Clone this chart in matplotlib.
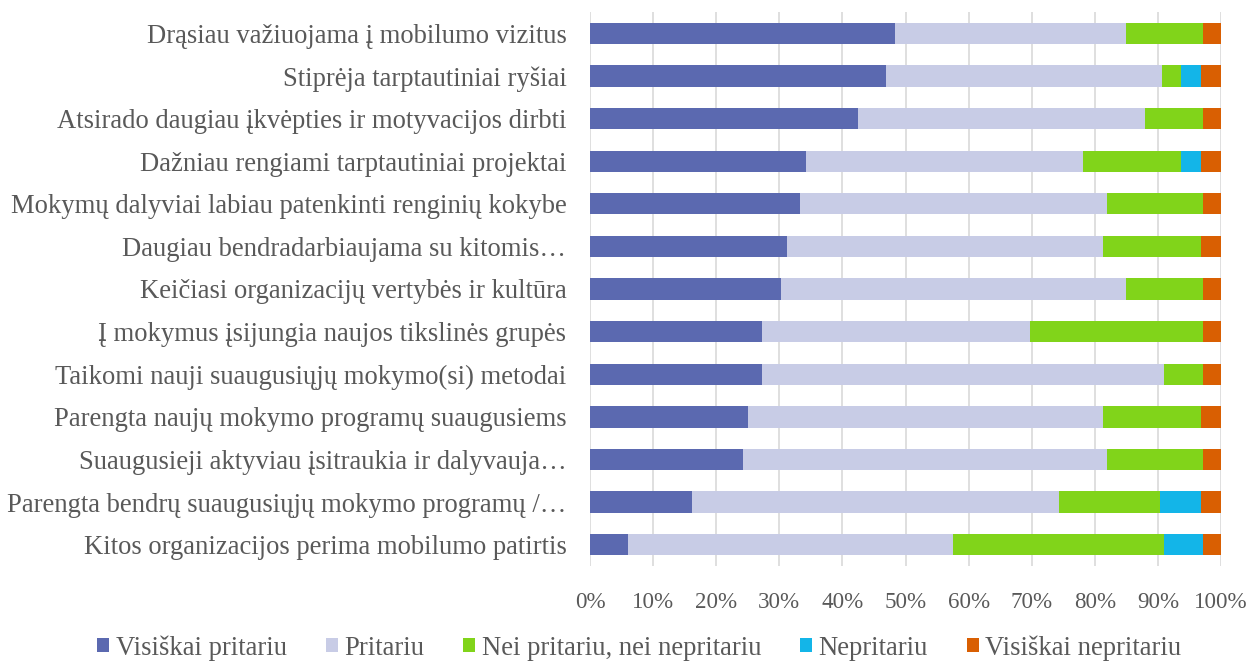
import matplotlib
matplotlib.use("Agg")
import matplotlib.pyplot as plt
import numpy as np

categories = [
    "Drąsiau važiuojama į mobilumo vizitus",
    "Stiprėja tarptautiniai ryšiai",
    "Atsirado daugiau įkvėpties ir motyvacijos dirbti",
    "Dažniau rengiami tarptautiniai projektai",
    "Mokymų dalyviai labiau patenkinti renginių kokybe",
    "Daugiau bendradarbiaujama su kitomis…",
    "Keičiasi organizacijų vertybės ir kultūra",
    "Į mokymus įsijungia naujos tikslinės grupės",
    "Taikomi nauji suaugusiųjų mokymo(si) metodai",
    "Parengta naujų mokymo programų suaugusiems",
    "Suaugusieji aktyviau įsitraukia ir dalyvauja…",
    "Parengta bendrų suaugusiųjų mokymo programų /…",
    "Kitos organizacijos perima mobilumo patirtis",
]
series_names = ["Visiškai pritariu", "Pritariu", "Nei pritariu, nei nepritariu",
                "Nepritariu", "Visiškai nepritariu"]
visiskai_pritariu = [48.4, 46.9, 42.4, 34.3, 33.3, 31.2, 30.3, 27.2, 27.2, 25.0, 24.2, 16.1, 6.0]
pritariu = [36.5, 43.8, 45.5, 43.9, 48.6, 50.1, 54.6, 42.5, 63.7, 56.3, 57.7, 58.2, 51.5]
nei = [12.2, 3.0, 9.2, 15.5, 15.2, 15.6, 12.2, 27.4, 6.2, 15.6, 15.2, 16.0, 33.4]
nepritariu = [0, 3.2, 0, 3.2, 0, 0, 0, 0, 0, 0, 0, 6.5, 6.2]
visiskai_nepritariu = [2.9, 3.1, 2.9, 3.1, 2.9, 3.1, 2.9, 2.9, 2.9, 3.1, 2.9, 3.2, 2.9]
x_ticks = [0, 10, 20, 30, 40, 50, 60, 70, 80, 90, 100]
x_tick_labels = [f"{t}%" for t in x_ticks]

colors = ["#5B69B0", "#C8CCE6", "#81D41A", "#13B5E8", "#D95F02"]
text_color = "#595959"

plt.rcParams['font.family'] = ['Liberation Serif', 'DejaVu Serif']

fig = plt.figure(figsize=(12.49, 6.61), dpi=100)
ax = fig.add_axes([590/1249, 1 - 566/661, (1221-590)/1249, (566-12)/661])

data = [visiskai_pritariu, pritariu, nei, nepritariu, visiskai_nepritariu]
y = np.arange(len(categories))
left = np.zeros(len(categories))
for vals, name, c in zip(data, series_names, colors):
    v = np.array(vals, dtype=float)
    ax.barh(y, v, left=left, height=0.5, color=c, label=name, zorder=3)
    left += v

ax.set_ylim(len(categories) - 0.5, -0.5)
ax.set_xlim(0, 100)
ax.set_xticks(x_ticks)
ax.set_xticklabels(x_tick_labels)
ax.set_yticks(y)
ax.set_yticklabels(categories)
ax.tick_params(axis='both', length=0, colors=text_color)
ax.tick_params(axis='x', pad=19, labelsize=16.6)
ax.tick_params(axis='y', pad=17, labelsize=19.2)
ax.grid(axis='x', color="#D9D9D9", linewidth=1.2, zorder=0)
for s in ax.spines.values():
    s.set_visible(False)

leg = fig.legend(loc='center', bbox_to_anchor=(0.5 + 15/1249, 1 - 648/661), ncol=5, frameon=False,
                 fontsize=19.2, handlelength=0.45, handleheight=0.45, handletextpad=0.25,
                 columnspacing=1.45)
for t in leg.get_texts():
    t.set_color(text_color)

fig.savefig("out.png", dpi=100)
